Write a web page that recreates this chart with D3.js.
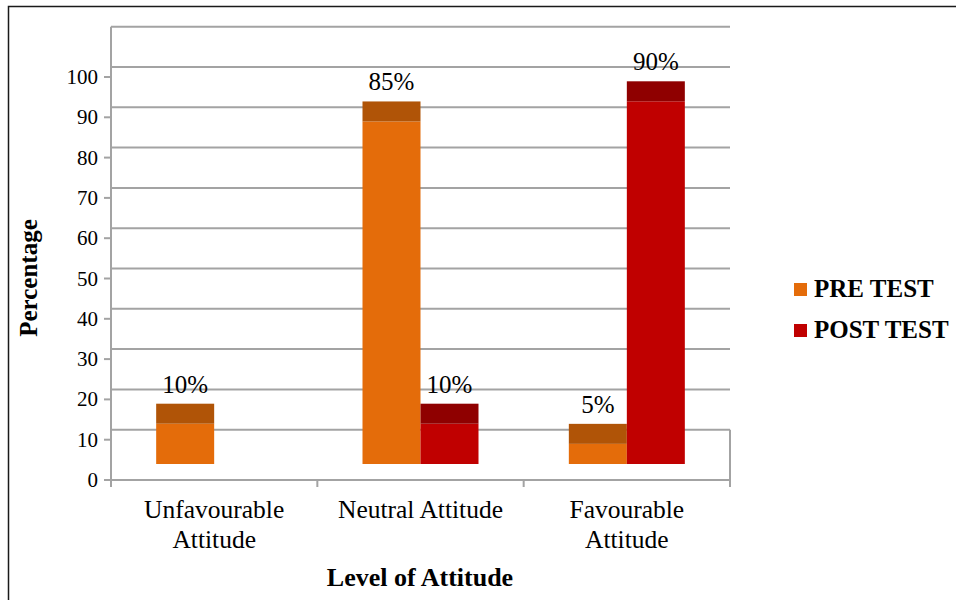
<!DOCTYPE html>
<html>
<head>
<meta charset="utf-8">
<script src="https://cdn.jsdelivr.net/npm/d3@7"></script>
<style>
  html, body { margin: 0; padding: 0; background: #fff; }
  svg { display: block; }
</style>
</head>
<body>
<svg id="chart" width="956" height="600"></svg>
<script>
// Attitude levels before and after the test, in percent
const categories = ["Unfavourable Attitude", "Neutral Attitude", "Favourable Attitude"];
const categoryLines = [["Unfavourable", "Attitude"], ["Neutral Attitude"], ["Favourable", "Attitude"]];
const seriesNames = ["PRE TEST", "POST TEST"];
const preTest = [10, 85, 5];
const postTest = [0, 10, 90];
const yTicks = [0, 10, 20, 30, 40, 50, 60, 70, 80, 90, 100];
const gridValues = [10, 20, 30, 40, 50, 60, 70, 80, 90, 100, 110];

const frontColors = ["#E46C0A", "#C00000"];
const topColors = ["#B05407", "#8F0000"];
const FONT = "'Liberation Serif', 'Times New Roman', Times, serif";

const svg = d3.select("#chart");

// outer frame (its right and bottom edges fall outside the canvas)
svg.append("rect")
  .attr("x", 8.5).attr("y", 6.5)
  .attr("width", 960).attr("height", 600)
  .attr("fill", "none").attr("stroke", "#1a1a1a").attr("stroke-width", 1.5);

const plotLeft = 111, plotRight = 730;
const y = d3.scaleLinear().domain([0, 100]).range([480, 77]);
const wallShift = -10;   // back wall sits slightly higher than the front axis
const barShift = -16;    // bar fronts stand above the front floor edge
const barDepth = 20;     // visible top face of each column

const x0 = d3.scaleBand().domain(categories).range([plotLeft, plotRight]).padding(0);
const x1 = d3.scaleBand().domain(seriesNames).range([0, 116]).padding(0);
const groupOffset = (x0.bandwidth() - 116) / 2;

const grid = svg.append("g");
// back-wall gridlines
grid.selectAll("line.grid").data(gridValues).join("line")
  .attr("x1", plotLeft).attr("x2", plotRight)
  .attr("y1", d => y(d) + wallShift).attr("y2", d => y(d) + wallShift)
  .attr("stroke", "#a3a3a3").attr("stroke-width", 2);

// side edge of the floor on the right
grid.append("line")
  .attr("x1", plotRight).attr("x2", plotRight)
  .attr("y1", y(10) + wallShift).attr("y2", y(0))
  .attr("stroke", "#a3a3a3").attr("stroke-width", 2);

// value axis
grid.append("line")
  .attr("x1", plotLeft).attr("x2", plotLeft)
  .attr("y1", y(110) + wallShift).attr("y2", y(0) + 6)
  .attr("stroke", "#a3a3a3").attr("stroke-width", 2);
grid.selectAll("line.ytick").data(yTicks).join("line")
  .attr("x1", plotLeft - 7).attr("x2", plotLeft)
  .attr("y1", d => y(d)).attr("y2", d => y(d))
  .attr("stroke", "#a3a3a3").attr("stroke-width", 2);

// category axis
grid.append("line")
  .attr("x1", plotLeft - 7).attr("x2", plotRight)
  .attr("y1", y(0)).attr("y2", y(0))
  .attr("stroke", "#a3a3a3").attr("stroke-width", 2);
const boundaries = categories.map(c => x0(c)).concat([x0(categories[2]) + x0.bandwidth()]);
grid.selectAll("line.xtick").data(boundaries).join("line")
  .attr("x1", d => d).attr("x2", d => d)
  .attr("y1", y(0)).attr("y2", y(0) + 7)
  .attr("stroke", "#a3a3a3").attr("stroke-width", 2);

// tick labels
svg.append("g").selectAll("text").data(yTicks).join("text")
  .attr("x", 98).attr("y", d => y(d) + 7)
  .attr("text-anchor", "end")
  .attr("font-family", FONT).attr("font-size", 21)
  .text(d => d);

// columns
const bars = [];
categories.forEach((c, i) => {
  [preTest[i], postTest[i]].forEach((v, s) => {
    if (v > 0) bars.push({ cat: c, series: s, value: v });
  });
});

const barG = svg.append("g");
bars.forEach(b => {
  const bx = x0(b.cat) + groupOffset + x1(seriesNames[b.series]);
  const w = x1.bandwidth();
  const yTop = y(b.value) + barShift;
  const yBase = y(0) + barShift;
  barG.append("rect")
    .attr("x", bx).attr("y", yTop)
    .attr("width", w).attr("height", yBase - yTop)
    .attr("fill", frontColors[b.series]);
  barG.append("rect")
    .attr("x", bx).attr("y", yTop - barDepth)
    .attr("width", w).attr("height", barDepth)
    .attr("fill", topColors[b.series]);
  barG.append("text")
    .attr("x", bx + w / 2).attr("y", yTop - barDepth - 11)
    .attr("text-anchor", "middle")
    .attr("font-family", FONT).attr("font-size", 25)
    .text(b.value + "%");
});

// category labels
const catG = svg.append("g");
categories.forEach((c, i) => {
  const cx = x0(c) + x0.bandwidth() / 2;
  const t = catG.append("text")
    .attr("x", cx).attr("y", 518)
    .attr("text-anchor", "middle")
    .attr("font-family", FONT).attr("font-size", 25.5);
  categoryLines[i].forEach((line, k) => {
    t.append("tspan").attr("x", cx).attr("dy", k === 0 ? 0 : 30).text(line);
  });
});

// axis titles
svg.append("text")
  .attr("x", 420).attr("y", 586)
  .attr("text-anchor", "middle")
  .attr("font-family", FONT).attr("font-size", 26).attr("font-weight", "bold")
  .text("Level of Attitude");

svg.append("text")
  .attr("transform", "translate(37,278) rotate(-90)")
  .attr("text-anchor", "middle")
  .attr("font-family", FONT).attr("font-size", 25).attr("font-weight", "bold")
  .text("Percentage");

// legend
const legend = svg.append("g");
seriesNames.forEach((name, i) => {
  const base = 297 + i * 41;
  legend.append("rect")
    .attr("x", 794).attr("y", base - 14)
    .attr("width", 13).attr("height", 13)
    .attr("fill", frontColors[i]);
  legend.append("text")
    .attr("x", 814).attr("y", base)
    .attr("font-family", FONT).attr("font-size", 25).attr("font-weight", "bold")
    .text(name);
});
</script>
</body>
</html>
